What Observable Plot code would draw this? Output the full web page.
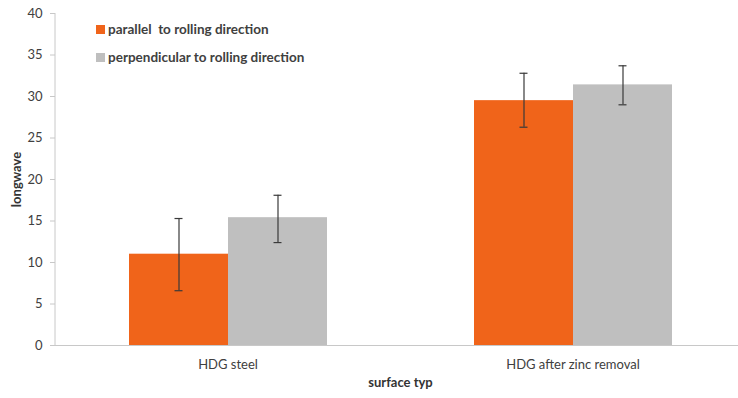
<!DOCTYPE html>
<html>
<head>
<meta charset="utf-8">
<script src="https://cdn.jsdelivr.net/npm/d3@7"></script>
<script src="https://cdn.jsdelivr.net/npm/@observablehq/plot@0.6"></script>
<style>
  html, body { margin: 0; padding: 0; background: #fff; }
  #wrap { position: relative; width: 738px; height: 398px; font-family: Lato, "Liberation Sans", sans-serif; }
  #legend { position: absolute; left: 96px; top: 21px; font-size: 13.5px; font-weight: bold; color: #404040; }
  #legend .item { display: flex; align-items: center; height: 16px; margin-bottom: 12px; }
  #legend .sw { width: 9px; height: 9px; margin-right: 3px; }
</style>
</head>
<body>
<div id="wrap"><div id="legend"></div></div>
<script>
const categories = ["HDG steel", "HDG after zinc removal"];
const series = ["parallel  to rolling direction", "perpendicular to rolling direction"];
const parallelValues = [11.0, 29.5];
const parallelLow = [6.6, 26.3];
const parallelHigh = [15.3, 32.8];
const perpendicularValues = [15.4, 31.4];
const perpendicularLow = [12.4, 29.0];
const perpendicularHigh = [18.1, 33.7];
const yTicks = [0, 5, 10, 15, 20, 25, 30, 35, 40];
const colors = ["#F0641A", "#BFBFBF"];

const data = [];
categories.forEach((c, i) => {
  data.push({cat: c, series: series[0], value: parallelValues[i], lo: parallelLow[i], hi: parallelHigh[i]});
  data.push({cat: c, series: series[1], value: perpendicularValues[i], lo: perpendicularLow[i], hi: perpendicularHigh[i]});
});

const chart = Plot.plot({
  width: 738,
  height: 398,
  marginLeft: 55,
  marginRight: 0,
  marginTop: 13,
  marginBottom: 53,
  style: {fontFamily: "Lato, 'Liberation Sans', sans-serif", fontSize: "13px", color: "#404040", background: "transparent"},
  fx: {domain: categories, range: [55, 745], padding: 0},
  x: {domain: series, paddingInner: 0, paddingOuter: 0.742},
  y: {domain: [0, 40]},
  color: {domain: series, range: colors},
  marks: [
    Plot.barY(data, {fx: "cat", x: "series", y: "value", fill: "series"}),
    Plot.ruleY([0], {stroke: "#c8c8c8", strokeWidth: 1}),
    Plot.ruleX(data, {fx: "cat", x: "series", y1: "lo", y2: "hi", stroke: "#3a3a3a", strokeWidth: 1.2}),
    Plot.tickY(data, {fx: "cat", x: "series", y: "lo", stroke: "#3a3a3a", strokeWidth: 1.2, insetLeft: 45.5, insetRight: 45.5}),
    Plot.tickY(data, {fx: "cat", x: "series", y: "hi", stroke: "#3a3a3a", strokeWidth: 1.2, insetLeft: 45.5, insetRight: 45.5}),
    Plot.axisY({ticks: yTicks, tickSize: 5, tickPadding: 8, stroke: "#c8c8c8", color: "#404040", label: "longwave", labelAnchor: "center", labelOffset: 44, labelArrow: "none"}),
    Plot.axisFx({anchor: "bottom", tickSize: 0, tickPadding: 14, label: "surface typ", labelAnchor: "center", labelOffset: 41, labelArrow: "none"}),
    Plot.axisX({ticks: [], label: null})
  ]
});

document.getElementById("wrap").prepend(chart);

// y axis line using the plot's y scale
const ys = chart.scale("y");
d3.select(chart).append("line")
  .attr("x1", 55).attr("x2", 55)
  .attr("y1", ys.apply(0)).attr("y2", ys.apply(40))
  .attr("stroke", "#c8c8c8");

d3.select(chart).selectAll("[aria-label='y-axis label'] text, [aria-label='fx-axis label'] text")
  .style("font-weight", "bold").style("fill", "#333");

const legend = d3.select("#legend");
series.forEach((s, i) => {
  const item = legend.append("div").attr("class", "item");
  item.append("div").attr("class", "sw").style("background", colors[i]);
  item.append("span").style("white-space", "pre").text(s);
});
</script>
</body>
</html>
